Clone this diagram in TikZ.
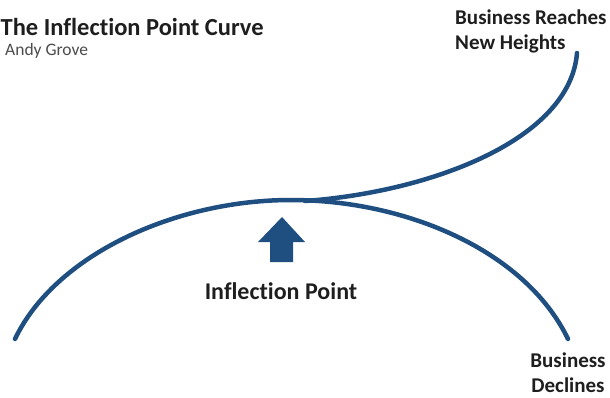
\documentclass[tikz,border=0pt]{standalone}
\usepackage{fontspec}
\setmainfont{Carlito}[Ligatures=NoCommon]
\definecolor{curveblue}{RGB}{31,78,128}
\definecolor{txt}{RGB}{30,30,30}
\begin{document}
\begin{tikzpicture}[x=1pt,y=-1pt,
  curve/.style={draw=curveblue,line width=4.5pt,line cap=round},
  lbl/.style={text=txt,font=\bfseries\fontsize{21}{24.5}\selectfont,inner sep=0pt},
  biglbl/.style={text=txt,font=\bfseries\fontsize{24}{28}\selectfont,inner sep=0pt},
  titlelbl/.style={text=txt,font=\bfseries\fontsize{24.5}{28}\selectfont,inner sep=0pt,anchor=west},
  sublbl/.style={text=txt!80,font=\fontsize{17.5}{20}\selectfont,inner sep=0pt,anchor=west}]
\useasboundingbox (0,0) rectangle (610,397);
\node[titlelbl] (title) at (0.5,27) {The Inflection Point Curve};
\node[sublbl] (author) at (5,51) {Andy Grove};
\coordinate (start) at (15,339);
\coordinate (peak) at (291,200);
\coordinate (declend) at (568,339);
\coordinate (split) at (305,201);
\coordinate (topend) at (577,53);
\path[curve] (start) .. controls (55,255) and (175,200) .. (peak) .. controls (405,200) and (525,250) .. (declend);
\path[curve] (split) .. controls (430,192) and (570,140) .. (topend);
\node[lbl,align=left,anchor=north west] (heights) at (455,10) {Business Reaches\\New Heights};
\node[lbl,align=center,anchor=north] (declines) at (568,353) {Business\\Declines};
\fill[curveblue] (282,217) -- (305,242) -- (293,242) -- (293,262) -- (270,262) -- (270,242) -- (258,242) -- cycle;
\node[biglbl,anchor=center] (ip) at (281,291) {Inflection Point};
\end{tikzpicture}
\end{document}
